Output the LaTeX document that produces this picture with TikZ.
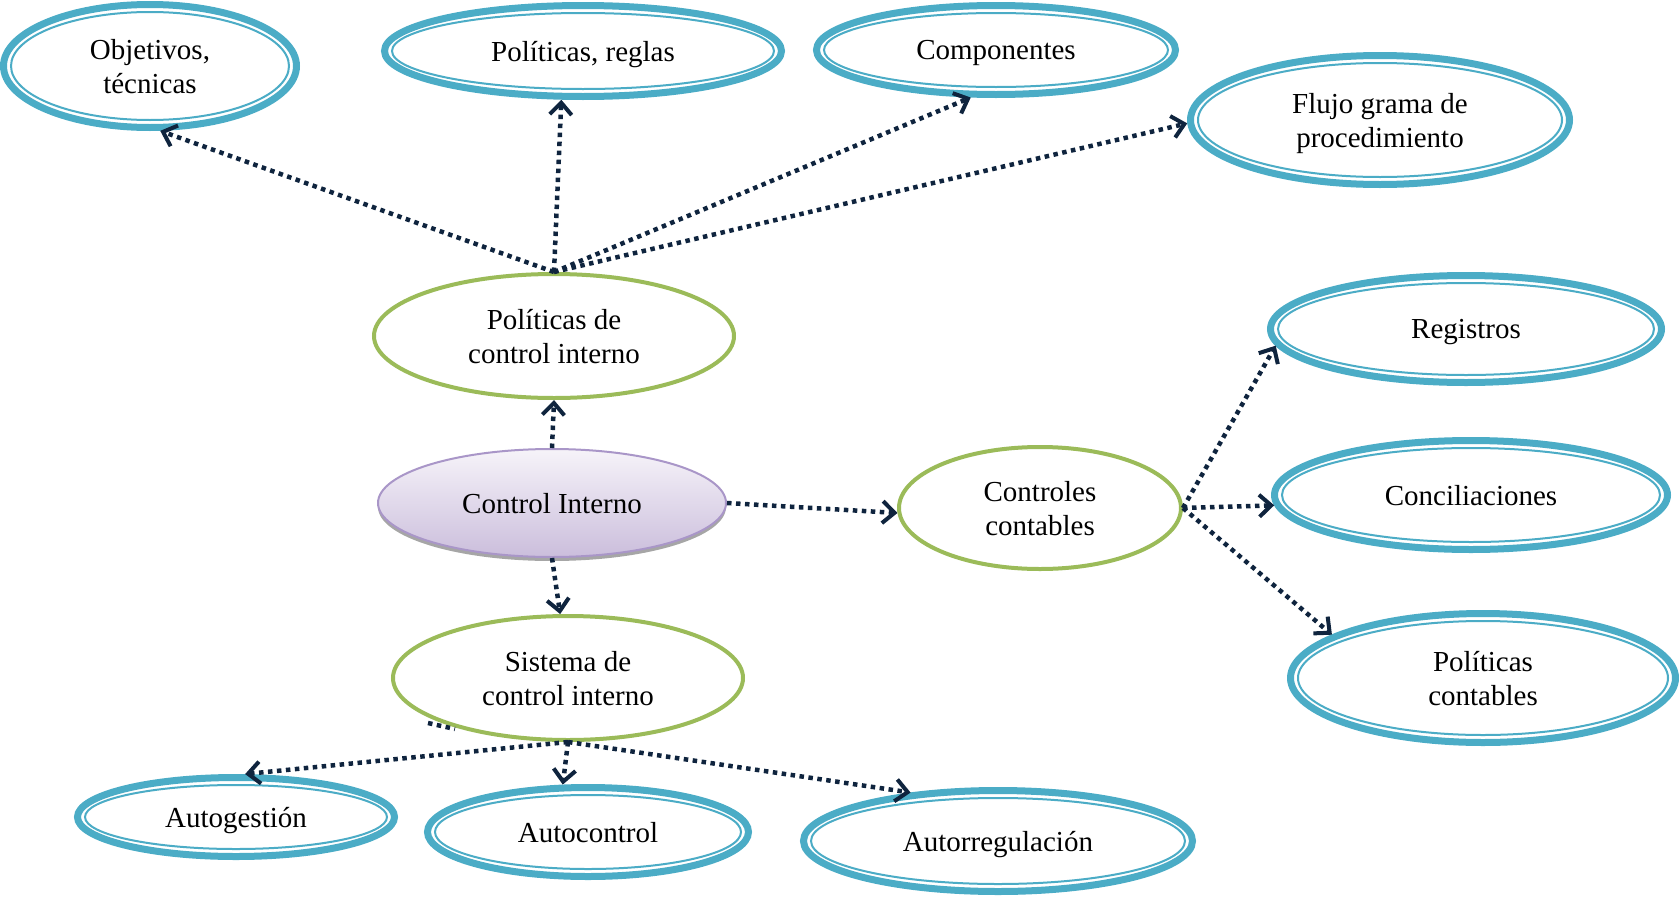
\documentclass[tikz,border=0pt]{standalone}
\usepackage{fontspec}
\setmainfont{Liberation Serif}
\usetikzlibrary{shapes.geometric,arrows.meta,shadows}
\definecolor{ringblue}{HTML}{4BACC6}
\definecolor{leafgreen}{HTML}{9BBB59}
\definecolor{navy}{HTML}{0F243E}
\definecolor{lavtop}{HTML}{F6F3F9}
\definecolor{lavbot}{HTML}{CBBEDC}
\definecolor{lavline}{HTML}{A996C8}
\tikzset{
  lbl/.style={font=\fontsize{29}{34}\selectfont, align=center, text=black, text depth=0pt},
  bluering/.style={lbl, ellipse, draw=ringblue, line width=7pt, fill=white, inner sep=0pt},
  blueinner/.style={draw=ringblue, line width=2pt},
  greenring/.style={lbl, ellipse, draw=leafgreen, line width=4pt, fill=white, inner sep=0pt},
  centrenode/.style={lbl, ellipse, draw=lavline, line width=2pt, top color=lavtop, bottom color=lavbot, inner sep=0pt,
    drop shadow={shadow xshift=0pt, shadow yshift=-4pt, fill=black, opacity=0.35}},
  link/.style={draw=navy, line width=4.5pt, dash pattern=on 4.5pt off 4.5pt,
    -{Straight Barb[length=12pt,width=22pt,line width=4pt]}},
  stub/.style={draw=navy, line width=4.5pt, dash pattern=on 4.5pt off 4.5pt},
}
% name, cx, cy, rx, ry, text
\newcommand\bnode[6]{%
  \node[bluering, minimum width={2*#4-7}, minimum height={2*#5-7}] (#1) at (#2,#3) {#6};
  \draw[blueinner] (#2,#3) ellipse [x radius={#4pt-11pt}, y radius={#5pt-11pt}];
}
\newcommand\gnode[6]{%
  \node[greenring, minimum width={2*#4-4}, minimum height={2*#5-4}] (#1) at (#2,#3) {#6};
}
\begin{document}
\begin{tikzpicture}[x=1pt,y=-1pt]
\useasboundingbox (0,0) rectangle (1679,897);

\bnode{obj}{150}{66}{150}{65}{Objetivos,\\técnicas}
\bnode{pr}{583}{51}{202}{49}{Políticas, reglas}
\bnode{comp}{996}{50}{183}{48}{Componentes}
\bnode{flujo}{1380}{120}{193}{68}{Flujo grama de\\procedimiento}
\gnode{pci}{554}{336}{182}{64}{Políticas de\\control interno}
\node[centrenode, minimum width=348, minimum height=108] (ci) at (552,503) {Control Interno};
\gnode{cc}{1040}{508}{143}{63}{Controles\\contables}
\bnode{reg}{1466}{329}{199}{57}{Registros}
\bnode{conc}{1471}{495}{200}{58}{Conciliaciones}
\bnode{polc}{1483}{678}{196}{68}{Políticas\\contables}
\gnode{sis}{568}{678}{177}{64}{Sistema de\\control interno}
\bnode{autog}{236}{817}{162}{43}{Autogestión}
\bnode{autoc}{588}{832}{164}{48}{Autocontrol}
\bnode{autor}{998}{841}{198}{54}{Autorregulación}

\coordinate (stubA) at (428,723);
\coordinate (stubB) at (455,729);

\draw[link] (pci.north) -- (obj.-81);
\draw[link] (pci.north) -- (pr.-114);
\draw[link] (pci.north) -- (comp.-118);
\draw[link] (pci.north) -- (flujo.181.5);
\draw[link] (ci.north) -- (pci.south);
\draw[link] (ci.south) -- (sis.97);
\draw[link] (ci.east) -- (cc.182);
\draw[link] (cc.east) -- (reg.185.7);
\draw[link] (cc.east) -- (conc.183.2);
\draw[link] (cc.east) -- (polc.164.5);
\draw[link] (sis.south) -- (autog.78);
\draw[link] (sis.south) -- (autoc.118);
\draw[link] (sis.south) -- (autor.151);
\draw[stub] (stubA) -- (stubB);
\end{tikzpicture}
\end{document}
